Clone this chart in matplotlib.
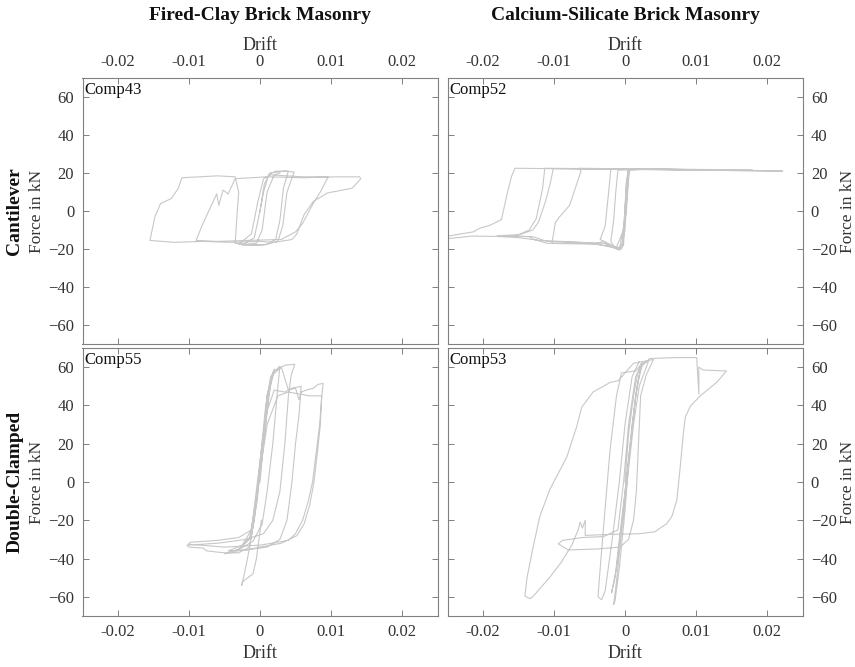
import numpy as np
import matplotlib.pyplot as plt

plt.rcParams['font.family'] = ['Liberation Serif', 'DejaVu Serif']

# ---- data (drift, force in kN) ----
comp43_drift = [0.0, 0.0005, 0.0012, 0.0022, 0.0040, 0.0033, 0.0028, 0.0022, 0.0010, -0.0010,
                -0.0025, -0.0008, 0.0000, 0.0006, 0.0014, 0.0035, 0.0048, 0.0038, 0.0032, 0.0025,
                0.0005, -0.0030, -0.0012, -0.0003, 0.0005, 0.0015, 0.0060, 0.0096, 0.0085, 0.0075,
                0.0060, 0.0050, 0.0030, -0.0020, -0.0060, -0.0090, -0.0082, -0.0061, -0.0058, -0.0052,
                -0.0045, -0.0040, -0.0035, 0.0010, 0.0060, 0.0110, 0.0140, 0.0142, 0.0130, 0.0095,
                0.0075, 0.0062, 0.0052, 0.0045, 0.0020, 0.0000, -0.0040, -0.0080, -0.0120, -0.0155,
                -0.0148, -0.0140, -0.0125, -0.0115, -0.0110, -0.0085, -0.0060, -0.0035, -0.0030, -0.0032,
                -0.0035, -0.0020, -0.0005, 0.0003, 0.0010, 0.0020, 0.0028]
comp43_force = [0, 10, 19, 21, 21, 12, -5, -15, -17.5, -18,
                -18, -14, 0, 14, 20, 21, 20.5, 10, -8, -16,
                -18, -17.5, -12, 5, 17, 19, 18, 18, 10, 4,
                -6.5, -11, -15, -15.5, -16, -15.5, -8, 9, 3, 11,
                9, 13, 17, 18, 17.5, 18, 18, 17, 12, 9.5,
                5, -2, -12, -15, -16.5, -16, -16.5, -16, -16.5, -15.5,
                -3, 4, 6.5, 12, 17.5, 18, 18.5, 18, 10, 0,
                -17, -17.5, -17, -10, 10, 19, 20]

comp52_drift = [0.0, 0.0002, 0.0005, 0.0030, -0.0010, -0.0013, -0.0016, -0.0020, -0.0015, -0.0005,
                0.0000, 0.0003, 0.0006, 0.0060, -0.0020, -0.0023, -0.0028, -0.0035, -0.0010, -0.0003,
                0.0000, 0.0005, 0.0090, -0.0065, -0.0062, -0.0070, -0.0078, -0.0092, -0.0098, -0.0103,
                -0.0040, -0.0030, -0.0018, -0.0008, -0.0002, 0.0000, 0.0004, 0.0130, -0.0101, -0.0105,
                -0.0112, -0.0122, -0.0130, -0.0145, -0.0158, -0.0135, -0.0128, -0.0110, -0.0040, -0.0020,
                -0.0005, 0.0000, 0.0004, 0.0006, 0.0180, -0.0113, -0.0116, -0.0125, -0.0135, -0.0150,
                -0.0180, -0.0130, -0.0110, -0.0030, -0.0008, 0.0002, 0.0006, 0.0222, -0.0155, -0.0160,
                -0.0166, -0.0174, -0.0190, -0.0204, -0.0214, -0.0246, -0.0265, -0.0265, -0.0246, -0.0215,
                -0.0180, -0.0150, -0.0120, -0.0060, -0.0012, -0.0002, 0.0002]
comp52_force = [0, 15, 21.5, 22, 21.5, 10, -5, -16, -19, -19.5,
                -10, 10, 22, 22, 22, 10, -8, -15, -19.5, -18,
                0, 22, 21.8, 22.5, 21, 12, 3, -3, -6, -17,
                -17, -16, -19, -20.5, -18, 0, 22, 21.8, 22.3, 15,
                5, -6, -10, -12, -13.2, -13.5, -15, -17, -17.5, -19,
                -20, -5, 20, 22, 21.5, 22.5, 12, -4, -10, -12.5,
                -13, -13.5, -16, -17, -20.5, 0, 22, 21, 22.5, 18,
                9, -4.5, -7.5, -9, -11, -13, -13.5, -14.5, -14.4, -13.2,
                -13.4, -14, -15.5, -16.5, -19, -10, 15]

comp55_drift = [0.0, 0.0006, 0.0010, 0.0018, 0.0028, 0.0024, 0.0018, 0.0010, 0.0003, -0.0010,
                -0.0035, -0.0050, -0.0030, -0.0012, -0.0004, 0.0004, 0.0010, 0.0020, 0.0035, 0.0049,
                0.0044, 0.0040, 0.0035, 0.0028, 0.0018, 0.0005, -0.0020, -0.0060, -0.0103, -0.0100,
                -0.0080, -0.0075, -0.0050, -0.0030, -0.0015, -0.0008, 0.0000, 0.0008, 0.0015, 0.0030,
                0.0040, 0.0050, 0.0055, 0.0058, 0.0065, 0.0075, 0.0082, 0.0089, 0.0087, 0.0084,
                0.0080, 0.0074, 0.0068, 0.0060, 0.0050, 0.0040, 0.0000, -0.0050, -0.0101, -0.0098,
                -0.0060, -0.0030, -0.0012, -0.0002, 0.0008, 0.0020, 0.0035, 0.0045, 0.0058, 0.0055,
                0.0050, 0.0045, 0.0038, 0.0028, 0.0010, -0.0020, -0.0045, -0.0025, -0.0012, -0.0002,
                0.0010, 0.0025, 0.0040, 0.0055, 0.0070, 0.0087, 0.0085, 0.0081, 0.0076, 0.0070,
                0.0062, 0.0052, 0.0030, 0.0000, -0.0020, -0.0032, -0.0015, -0.0005, 0.0005, 0.0012,
                0.0020, 0.0016, 0.0008, -0.0005, -0.0015, -0.0022, -0.0026, -0.0024, -0.0010, -0.0005,
                0.0002]
comp55_force = [0, 25, 45, 57, 60.5, 45, 20, -5, -22, -31,
                -36.5, -37.5, -35, -28, -10, 20, 45, 58, 61, 61.5,
                56, 45, 20, -5, -20, -27, -30, -32, -33, -34,
                -34.5, -36, -37, -37, -34, -20, 10, 40, 55, 60,
                48, 49, 43, 47, 48, 49, 51, 51.5, 45, 30,
                18, 0, -10, -20, -27, -30.5, -33, -34, -32.5, -31.5,
                -30.5, -29, -25, 5, 35, 48, 47, 49, 50, 35,
                20, 0, -20, -30, -34, -35.5, -36, -33, -25, 0,
                30, 45, 47, 46, 45, 45, 30, 16, 0, -12,
                -22, -28, -32, -34, -35.5, -36, -30, -10, 20, 45,
                59, 55, 30, -10, -35, -48, -54, -52, -48, -40,
                -20]

comp53_drift = [0.0, 0.0005, 0.0012, 0.0018, 0.0023, 0.0015, 0.0008, 0.0000, -0.0008, -0.0014,
                -0.0019, -0.0012, -0.0004, 0.0003, 0.0010, 0.0018, 0.0025, 0.0033, 0.0020, 0.0012,
                0.0003, -0.0006, -0.0012, -0.0016, -0.0014, -0.0008, 0.0000, 0.0006, 0.0015, 0.0022,
                0.0035, 0.0070, 0.0101, 0.0104, 0.0104, 0.0110, 0.0143, 0.0129, 0.0106, 0.0092,
                0.0085, 0.0082, 0.0080, 0.0077, 0.0073, 0.0066, 0.0059, 0.0042, 0.0021, -0.0030,
                -0.0056, -0.0056, -0.0060, -0.0063, -0.0066, -0.0075, -0.0090, -0.0106, -0.0130, -0.0134,
                -0.0141, -0.0138, -0.0130, -0.0120, -0.0106, -0.0082, -0.0068, -0.0061, -0.0045, -0.0021,
                -0.0009, 0.0000, 0.0012, 0.0040, 0.0030, 0.0022, 0.0019, 0.0016, 0.0012, 0.0005,
                -0.0007, -0.0040, -0.0080, -0.0094, -0.0088, -0.0060, -0.0030, -0.0010, -0.0002, 0.0005,
                0.0015, 0.0025, 0.0015, -0.0005, -0.0012, -0.0021, -0.0031, -0.0036, -0.0038, -0.0033,
                -0.0028, -0.0018, -0.0008, 0.0000, 0.0010, 0.0020]
comp53_force = [0, 25, 45, 57, 62, 45, 20, -5, -30, -50,
                -58, -45, -20, 5, 30, 52, 62, 63, 50, 30,
                0, -30, -52, -64, -62, -45, -15, 15, 45, 60,
                64.5, 65, 65, 46, 60, 58.5, 58, 52, 45, 39.6,
                34, 25, 16.8, 5, -9.5, -18, -21.7, -26, -27, -27.5,
                -27.9, -20, -24, -21, -25, -33, -42, -49.8, -60, -61,
                -59.5, -50, -35, -18, -4, 13, 29, 39, 47, 52,
                53, 57, 62, 64, 56, 45, 20, -5, -20, -30,
                -34, -35, -35.5, -32.3, -30.5, -29, -28.5, -25, 0, 30,
                55, 62.5, 58, 57, 45, 17, -27, -50, -60, -61.5,
                -57, -30, 0, 30, 55, 63]

panels = [
    ("Comp43", comp43_drift, comp43_force),
    ("Comp52", comp52_drift, comp52_force),
    ("Comp55", comp55_drift, comp55_force),
    ("Comp53", comp53_drift, comp53_force),
]
col_titles = ["Fired-Clay Brick Masonry", "Calcium-Silicate Brick Masonry"]
row_titles = ["Cantilever", "Double-Clamped"]
xticks = [-0.02, -0.01, 0, 0.01, 0.02]
xticklabels = ["-0.02", "-0.01", "0", "0.01", "0.02"]
yticks = [-60, -40, -20, 0, 20, 40, 60]

fig = plt.figure(figsize=(8.55, 6.67), dpi=100)

W, H = 855, 667
lefts = [82.5, 447.5]
width = 355
tops = [78, 348]
heights = [266, 268]

txt = '#333333'
spine = '#808080'

for i, (name, d, f) in enumerate(panels):
    r, c = divmod(i, 2)
    ax = fig.add_axes([lefts[c] / W, 1 - (tops[r] + heights[r]) / H, width / W, heights[r] / H])
    ax.plot(d, f, color='#9a9a9a', lw=0.8, alpha=0.55)
    ax.set_xlim(-0.025, 0.025)
    ax.set_ylim(-70, 70)
    ax.set_xticks(xticks)
    ax.set_xticklabels(xticklabels)
    ax.set_yticks(yticks)
    ax.tick_params(direction='in', length=4, width=0.7, color=spine, labelcolor=txt,
                   labelsize=12, top=True, bottom=True, left=True, right=True,
                   labeltop=(r == 0), labelbottom=(r == 1),
                   labelleft=(c == 0), labelright=(c == 1), pad=6)
    for s in ax.spines.values():
        s.set_color(spine)
        s.set_linewidth(0.8)
    ax.set_xlabel("Drift", fontsize=13, color=txt, labelpad=3)
    if r == 0:
        ax.xaxis.set_label_position('top')
    ax.set_ylabel("Force in kN", fontsize=12.5, color=txt, labelpad=2)
    if c == 1:
        ax.yaxis.set_label_position('right')
    ax.text(0.005, 0.985, name, transform=ax.transAxes, ha='left', va='top',
            fontsize=12, color='#111111')

for c, t in enumerate(col_titles):
    fig.text((lefts[c] + width / 2) / W, 1 - 15 / H, t, ha='center', va='center',
             fontsize=14, fontweight='bold', color='#111111')
for r, t in enumerate(row_titles):
    fig.text(15 / W, 1 - (tops[r] + heights[r] / 2) / H, t, ha='center', va='center',
             rotation=90, fontsize=14, fontweight='bold', color='#111111')

fig.savefig("out.png", dpi=100)
